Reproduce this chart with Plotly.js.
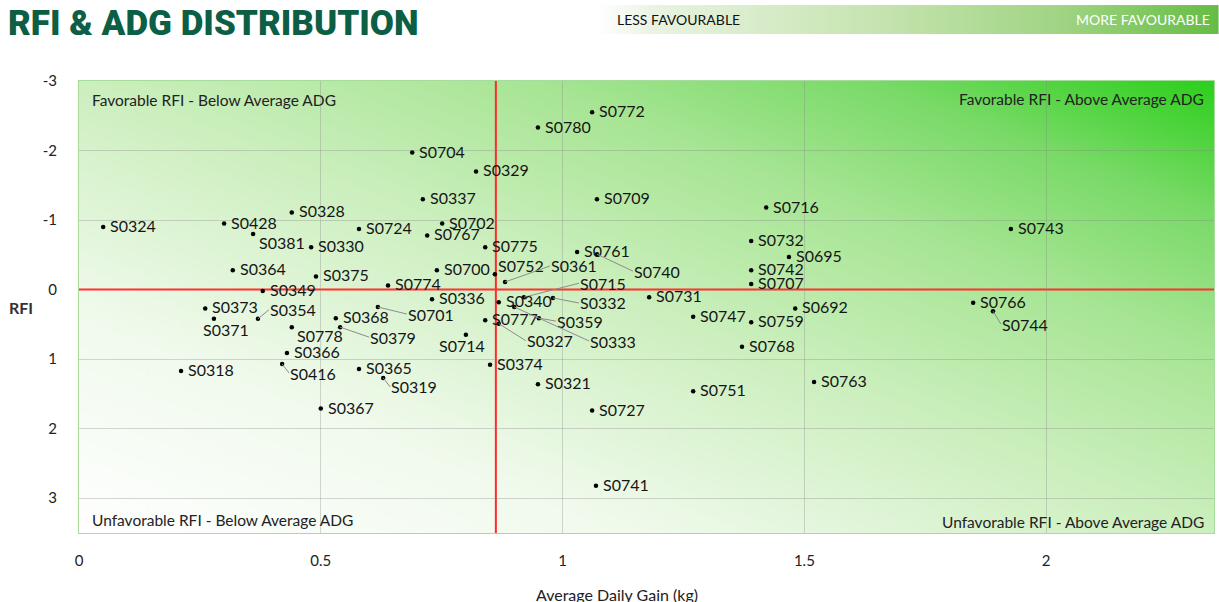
<!DOCTYPE html>
<html><head><meta charset="utf-8">
<script src="https://cdn.plot.ly/plotly-3.0.1.min.js"></script>
<style>html,body{margin:0;padding:0;background:#fff;}#chart{width:1219px;height:602px;}</style>
</head><body><div id="chart"></div>
<script>
// ---------- data ----------
const animalIds = ['S0772','S0780','S0704','S0329','S0337','S0709','S0716','S0743','S0324','S0428','S0328','S0724','S0702','S0767','S0381','S0330','S0775','S0761','S0740','S0732','S0695','S0364','S0375','S0700','S0752','S0361','S0742','S0707','S0774','S0715','S0349','S0336','S0340','S0332','S0731','S0766','S0744','S0692','S0373','S0354','S0368','S0701','S0777','S0359','S0747','S0759','S0371','S0778','S0379','S0327','S0333','S0714','S0768','S0366','S0374','S0318','S0416','S0365','S0319','S0321','S0763','S0751','S0727','S0367','S0741'];
const adgValues = [1.061,0.949,0.689,0.821,0.711,1.071,1.421,1.927,0.050,0.300,0.440,0.579,0.751,0.720,0.360,0.480,0.840,1.030,1.071,1.390,1.468,0.318,0.490,0.740,0.860,0.881,1.390,1.390,0.639,0.920,0.380,0.730,0.868,0.980,1.179,1.849,1.890,1.481,0.261,0.370,0.531,0.618,0.840,0.951,1.270,1.390,0.279,0.440,0.540,0.868,0.900,0.800,1.371,0.430,0.850,0.211,0.420,0.579,0.629,0.949,1.520,1.270,1.061,0.500,1.069];
const rfiValues = [-2.55,-2.33,-1.97,-1.70,-1.30,-1.30,-1.18,-0.87,-0.90,-0.95,-1.11,-0.87,-0.95,-0.78,-0.80,-0.61,-0.61,-0.54,-0.51,-0.70,-0.47,-0.28,-0.19,-0.28,-0.22,-0.11,-0.28,-0.08,-0.06,0.11,0.02,0.14,0.18,0.12,0.11,0.19,0.31,0.27,0.27,0.42,0.41,0.25,0.44,0.41,0.39,0.47,0.42,0.54,0.54,0.49,0.25,0.65,0.82,0.91,1.08,1.17,1.07,1.14,1.27,1.36,1.33,1.46,1.74,1.71,2.82];
const averageADG = 0.862;
const averageRFI = 0;
const xTickValues = [0, 0.5, 1, 1.5, 2];
const xTickLabels = ['0', '0.5', '1', '1.5', '2'];
const yTickValues = [-3, -2, -1, 0, 1, 2, 3];
const yTickLabels = ['-3', '-2', '-1', '0', '1', '2', '3'];
const quadrantTitles = ['Favorable RFI - Below Average ADG', 'Favorable RFI - Above Average ADG', 'Unfavorable RFI - Below Average ADG', 'Unfavorable RFI - Above Average ADG'];
const chartTitle = 'RFI &amp; ADG DISTRIBUTION';
const xTitle = 'Average Daily Gain (kg)';
const yTitle = 'RFI';
const scaleLabels = ['LESS FAVOURABLE', 'MORE FAVOURABLE'];

// ---------- label placement (style, pixel offsets) ----------
const defaultLabelShift = [6, -1.5, false];
const labelOffsets = {
  S0381:[5,9,false], S0371:[-12,11,false], S0714:[-28,11,false], S0778:[4,8,false], S0752:[2,-9,false],
  S0354:[11,-9,true], S0416:[7,9,true], S0319:[7,9,true], S0744:[8,13,true], S0701:[29,7,true],
  S0379:[29,10,true], S0327:[27,17,true], S0333:[75,34,true], S0359:[17,3,true], S0361:[45,-16,true],
  S0715:[55,-14,true], S0332:[26,5,true], S0740:[36,17,true]
};

const FONT = 'Lato, "Open Sans", sans-serif';
const labelFont = {family: FONT, size: 16, color: '#151515'};

function gradientURL(w, h, x0, y0, x1, y1, stops) {
  const c = document.createElement('canvas'); c.width = w; c.height = h;
  const g = c.getContext('2d');
  const lg = g.createLinearGradient(x0, y0, x1, y1);
  stops.forEach(s => lg.addColorStop(s[0], s[1]));
  g.fillStyle = lg; g.fillRect(0, 0, w, h);
  return c.toDataURL('image/png');
}
const plotBg = gradientURL(400, 400, 0, 400, 400, 0, [
  [0, '#ffffff'], [0.25, '#f0faec'], [0.5, '#ccefbe'], [0.7, '#a7e594'], [0.85, '#79da67'], [1, '#2ccf1c']]);
const barBg = gradientURL(620, 30, 0, 0, 620, 0, [
  [0, 'rgba(255,255,255,1)'], [0.1, '#e8f3e0'], [0.45, '#c6e4b0'], [0.75, '#a0d483'], [1, '#66bd44']]);

const traces = [{
  type: 'scatter', mode: 'markers',
  x: adgValues, y: rfiValues,
  marker: {size: 4.5, color: '#000'},
  hoverinfo: 'skip', cliponaxis: false
}];

const annotations = [];
animalIds.forEach((id, i) => {
  const o = labelOffsets[id] || defaultLabelShift;
  if (o[2]) {
    annotations.push({x: adgValues[i], y: rfiValues[i], xref: 'x', yref: 'y', text: id,
      showarrow: true, arrowhead: 0, arrowwidth: 1, arrowcolor: '#8c8c8c', standoff: 0,
      ax: o[0], ay: o[1], xanchor: 'left', yanchor: 'middle', font: labelFont, borderpad: 0});
  } else {
    annotations.push({x: adgValues[i], y: rfiValues[i], xref: 'x', yref: 'y', text: id,
      showarrow: false, xshift: o[0], yshift: -o[1], xanchor: 'left', yanchor: 'middle', font: labelFont, borderpad: 0});
  }
});
const qFont = {family: FONT, size: 15.5, color: '#222'};
annotations.push(
  {xref:'paper', yref:'paper', x:0.0097, y:0.958, xanchor:'left', yanchor:'middle', text: quadrantTitles[0], showarrow:false, font:qFont},
  {xref:'paper', yref:'paper', x:0.993, y:0.960, xanchor:'right', yanchor:'middle', text: quadrantTitles[1], showarrow:false, font:qFont},
  {xref:'paper', yref:'paper', x:0.0097, y:0.029, xanchor:'left', yanchor:'middle', text: quadrantTitles[2], showarrow:false, font:qFont},
  {xref:'paper', yref:'paper', x:0.993, y:0.024, xanchor:'right', yanchor:'middle', text: quadrantTitles[3], showarrow:false, font:qFont},
  {xref:'paper', yref:'paper', x:-0.051, y:0.498, xanchor:'center', yanchor:'middle', text: yTitle, showarrow:false, font:{family:FONT, size:16, color:'#333', weight:'bold'}},
  {xref:'paper', yref:'paper', x:0.474, y:-0.135, xanchor:'center', yanchor:'middle', text: xTitle, showarrow:false, font:{family:FONT, size:16, color:'#222'}},
  {xref:'paper', yref:'paper', x:0.472, y:1.137, xanchor:'left', yanchor:'middle', text: scaleLabels[0], showarrow:false, font:{family:FONT, size:14, color:'#111'}},
  {xref:'paper', yref:'paper', x:0.998, y:1.137, xanchor:'right', yanchor:'middle', text: scaleLabels[1], showarrow:false, font:{family:FONT, size:14, color:'#ffffff'}}
);

const axisCommon = {
  showgrid: true, gridcolor: 'rgba(130,130,130,0.32)', gridwidth: 1,
  zeroline: false, showline: true, linecolor: '#a6dc9c', linewidth: 1, mirror: true,
  ticks: '', tickfont: {family: FONT, size: 15, color: '#222'}, fixedrange: true, tickmode: 'array'
};

const layout = {
  width: 1219, height: 602,
  margin: {l: 79, r: 5, t: 81, b: 69},
  paper_bgcolor: '#ffffff', plot_bgcolor: 'rgba(0,0,0,0)',
  showlegend: false,
  title: {text: chartTitle, xref: 'container', yref: 'container', x: 0.0066, y: 0.963,
    xanchor: 'left', yanchor: 'middle', font: {family: 'Roboto, sans-serif', size: 35, weight: 900, color: '#0c5e44'}},
  xaxis: Object.assign({}, axisCommon, {range: [0, 2.347], tickvals: xTickValues, ticktext: xTickLabels, ticklabelstandoff: 14}),
  yaxis: Object.assign({}, axisCommon, {range: [3.5, -3], tickvals: yTickValues, ticktext: yTickLabels, ticklabelstandoff: 18}),
  images: [
    {source: plotBg, xref: 'paper', yref: 'paper', x: 0, y: 1, sizex: 1, sizey: 1, sizing: 'stretch', xanchor: 'left', yanchor: 'top', layer: 'below'},
    {source: barBg, xref: 'paper', yref: 'paper', x: 0.457, y: 1.168, sizex: 0.547, sizey: 0.064, sizing: 'stretch', xanchor: 'left', yanchor: 'top', layer: 'below'}
  ],
  shapes: [
    {type: 'line', xref: 'x', yref: 'paper', x0: averageADG, x1: averageADG, y0: 0, y1: 1, line: {color: '#ff2a2a', width: 2}, layer: 'between'},
    {type: 'line', xref: 'paper', yref: 'y', x0: 0, x1: 1, y0: averageRFI, y1: averageRFI, line: {color: '#ff2a2a', width: 2}, layer: 'between'}
  ],
  annotations: annotations
};

Plotly.newPlot('chart', traces, layout, {staticPlot: true, displayModeBar: false});
</script>
</body></html>
